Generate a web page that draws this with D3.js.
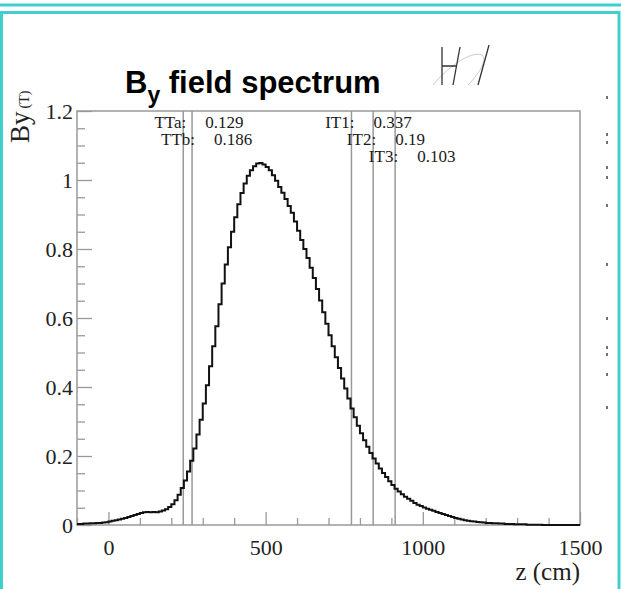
<!DOCTYPE html>
<html>
<head>
<meta charset="utf-8">
<script src="https://cdn.jsdelivr.net/npm/d3@7"></script>
<style>
  body { margin: 0; background: #fff; }
  svg { display: block; }
</style>
</head>
<body>
<script>
// --- donnees ---
// bins de 10 cm, de -100 a 1500 cm
const zMin = -100
const zMax = 1500
const binWidth = 10

// valeur de By (T) par bin, de gauche a droite
const byValues = [
  0.003,0.003,0.004,0.004,0.005,0.005,0.006,0.006,0.007,0.008, // -100..-10
  0.010,0.012,0.014,0.016,0.018,0.020,0.023,0.026,0.029,0.032, // 0..90
  0.035,0.037,0.038,0.037,0.038,0.037,0.039,0.042,0.046,0.052, // 100..190
  0.060,0.072,0.088,0.107,0.129,0.155,0.186,0.222,0.262,0.305, // 200..290
  0.352,0.405,0.460,0.518,0.576,0.640,0.700,0.755,0.805,0.850, // 300..390
  0.892,0.930,0.962,0.990,1.012,1.028,1.040,1.048,1.049,1.045, // 400..490
  1.038,1.028,1.014,0.998,0.980,0.963,0.945,0.925,0.905,0.880, // 500..590
  0.853,0.826,0.800,0.774,0.746,0.716,0.684,0.651,0.617,0.583, // 600..690
  0.550,0.518,0.486,0.455,0.425,0.396,0.367,0.338,0.312,0.288, // 700..790
  0.266,0.246,0.227,0.209,0.193,0.178,0.164,0.151,0.139,0.127, // 800..890
  0.116,0.105,0.097,0.089,0.082,0.076,0.070,0.064,0.059,0.055, // 900..990
  0.051,0.047,0.044,0.041,0.038,0.035,0.032,0.029,0.026,0.023, // 1000..1090
  0.020,0.018,0.016,0.014,0.012,0.011,0.010,0.009,0.008,0.007, // 1100..1190
  0.006,0.006,0.005,0.005,0.004,0.004,0.003,0.003,0.003,0.002, // 1200..1290
  0.002,0.002,0.002,0.001,0.001,0.001,0.001,0.001,0,0,         // 1300..1390
  0,0,0,0,0,0,0,0,0,0                                          // 1400..1490
]

// stations de tracking
const stationNames = ["TTa", "TTb", "IT1", "IT2", "IT3"]
const stationZ = [238, 266, 773, 842, 912]
const stationBy = ["0.129", "0.186", "0.337", "0.19", "0.103"]

const xMajor = [0, 500, 1000, 1500]
const yMajor = [0, 0.2, 0.4, 0.6, 0.8, 1, 1.2]

// --- svg ---
const W = 621, H = 589
const svg = d3.select("body").append("svg")
  .attr("width", W)
  .attr("height", H)

// cadre turquoise (slide)
svg.append("line")
  .attr("x1", 0).attr("x2", W).attr("y1", 5).attr("y2", 5)
  .attr("stroke", "#3fcfcf").attr("stroke-width", 3)
svg.append("rect")
  .attr("x", 1.5).attr("y", 12.5).attr("width", 617.5).attr("height", H)
  .attr("fill", "none").attr("stroke", "#3fcfcf").attr("stroke-width", 3)

// zone du graphe
const pLeft = 77, pRight = 580, pTop = 111, pBottom = 525

const x = d3.scaleLinear().domain([zMin, zMax]).range([pLeft, pRight])
const y = d3.scaleLinear().domain([0, 1.2]).range([pBottom, pTop])

const grey = "#999"

// minor ticks
const xMinor = d3.range(zMin, zMax + 1, 100).filter(v => !xMajor.includes(v))
const yMinor = d3.range(0, 1.21, 0.05).map(v => +v.toFixed(2)).filter(v => !yMajor.includes(v))

const xMinorAxis = svg.append("g").attr("transform", "translate(0," + pBottom + ")")
  .call(d3.axisBottom(x).tickValues(xMinor).tickSize(-7).tickFormat(""))
const xAxis = svg.append("g").attr("transform", "translate(0," + pBottom + ")")
  .call(d3.axisBottom(x).tickValues(xMajor).tickSize(-13).tickFormat(d3.format("d")))
const yMinorAxis = svg.append("g").attr("transform", "translate(" + pLeft + ",0)")
  .call(d3.axisLeft(y).tickValues(yMinor).tickSize(-8).tickFormat(""))
const yAxis = svg.append("g").attr("transform", "translate(" + pLeft + ",0)")
  .call(d3.axisLeft(y).tickValues(yMajor).tickSize(-15).tickPadding(4).tickFormat(d => String(d)))

svg.selectAll(".domain").remove()
svg.selectAll(".tick line").attr("stroke", grey).attr("stroke-width", 1.3)

const serif = "'Liberation Serif', 'Times New Roman', serif"

xAxis.selectAll("text")
  .attr("y", 30).attr("dy", 0)
  .attr("fill", "#222")
  .style("font-family", serif)
  .style("font-size", "22px")
yAxis.selectAll("text")
  .attr("fill", "#222")
  .style("font-family", serif)
  .style("font-size", "22px")

// cadre du graphe
svg.append("rect")
  .attr("x", pLeft).attr("y", pTop)
  .attr("width", pRight - pLeft).attr("height", pBottom - pTop)
  .attr("fill", "none").attr("stroke", grey).attr("stroke-width", 1.5)

// lignes des stations
svg.append("g").selectAll("line")
  .data(stationZ)
  .enter()
  .append("line")
    .attr("x1", d => x(d)).attr("x2", d => x(d))
    .attr("y1", pTop).attr("y2", pBottom)
    .attr("stroke", grey).attr("stroke-width", 1.5)

// histogramme en escalier
const pts = byValues.map((v, i) => [zMin + i * binWidth, v])
pts.push([zMax, byValues[byValues.length - 1]])
const line = d3.line()
  .x(d => x(d[0]))
  .y(d => y(d[1]))
  .curve(d3.curveStepAfter)
svg.append("path")
  .datum(pts)
  .attr("d", line)
  .attr("fill", "none")
  .attr("stroke", "#111")
  .attr("stroke-width", 2)

// etiquettes des stations
const labels = svg.append("g")
  .style("font-family", serif)
  .style("font-size", "17px")
  .attr("fill", "#1a1a1a")
stationNames.forEach((name, i) => {
  // rang = nb de stations precedentes du meme type (TT / IT)
  const row = stationNames.slice(0, i).filter(n => n.slice(0, 2) === name.slice(0, 2)).length
  const yy = 128 + row * 17
  labels.append("text")
    .attr("x", x(stationZ[i]) + 3).attr("y", yy)
    .attr("text-anchor", "end")
    .text(name + ":")
  labels.append("text")
    .attr("x", x(stationZ[i]) + 22).attr("y", yy)
    .text(stationBy[i])
})

// titres des axes
svg.append("text")
  .attr("x", pRight).attr("y", 580)
  .attr("text-anchor", "end")
  .attr("fill", "#222")
  .style("font-family", serif)
  .style("font-size", "25px")
  .text("z (cm)")

const yTitle = svg.append("text")
  .attr("transform", "translate(29,143) rotate(-90)")
  .attr("fill", "#222")
  .style("font-family", serif)
yTitle.append("tspan").style("font-size", "27px").text("By")
yTitle.append("tspan").attr("dx", 3).style("font-size", "14px").text("(T)")

// titre
const title = svg.append("text")
  .attr("x", 125).attr("y", 93)
  .attr("fill", "#000")
  .style("font-family", "'Liberation Sans', Arial, sans-serif")
  .style("font-weight", "bold")
  .style("font-size", "31px")
title.append("tspan").text("B")
title.append("tspan").attr("dy", 10).style("font-size", "23px").text("y")
title.append("tspan").attr("dy", -10).text(" field spectrum")

// petit logo en haut a droite
const logo = svg.append("g").attr("fill", "none")
logo.append("path")
  .attr("d", "M433,85 C445,70 470,50 482,55 C488,60 478,75 468,85")
  .attr("stroke", "#ccc").attr("stroke-width", 1)
logo.append("path")
  .attr("d", "M442,47 L442,85 M442,66 L456,66 M460,47 L453,85 M489,45 L478,85")
  .attr("stroke", "#333").attr("stroke-width", 1.3)

// traces parasites au bord droit
const specksY = [96, 133, 141, 166, 176, 204, 263, 317, 346, 353, 373, 406]
svg.append("g").selectAll("line")
  .data(specksY)
  .enter()
  .append("line")
    .attr("x1", 607).attr("x2", 607)
    .attr("y1", d => d).attr("y2", d => d + 3)
    .attr("stroke", "#444").attr("stroke-width", 1.5)
</script>
</body>
</html>
